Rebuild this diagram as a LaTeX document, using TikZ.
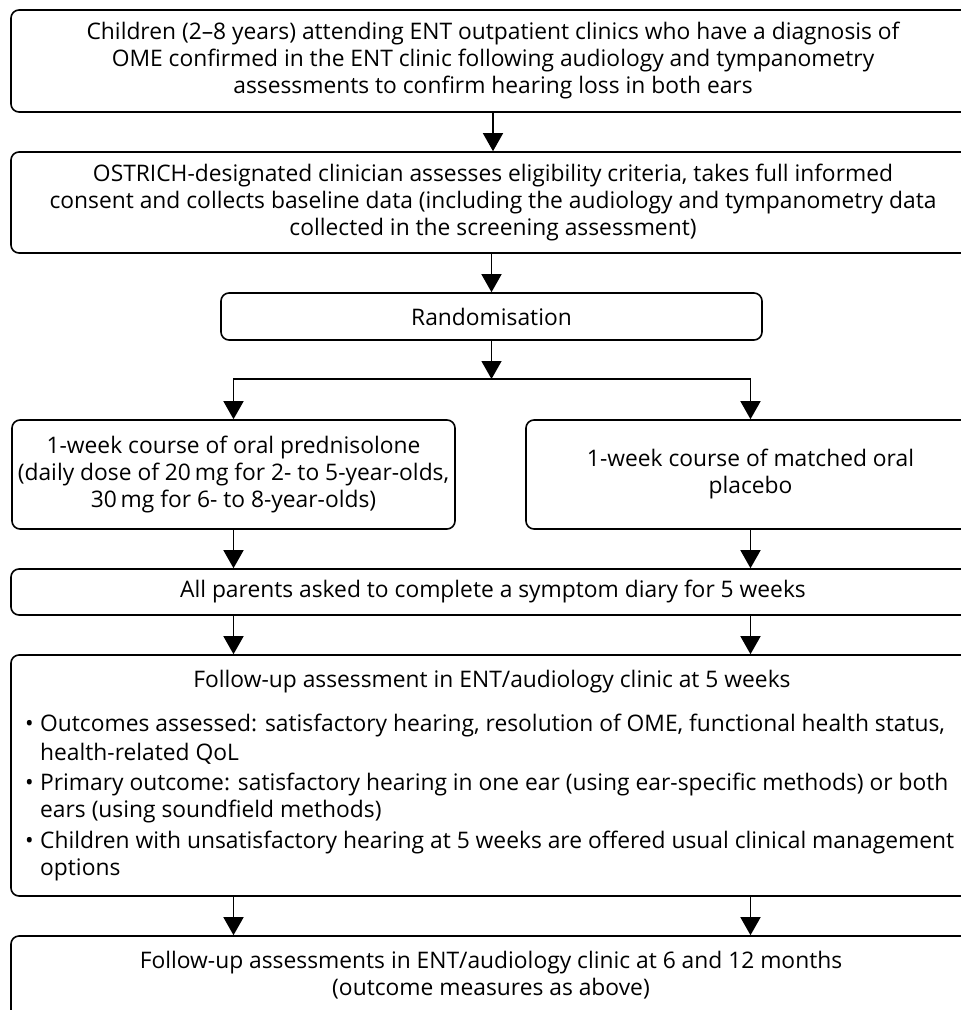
\documentclass[tikz,border=0pt]{standalone}
\usepackage{fontspec}
\setmainfont{Open Sans}
\usetikzlibrary{arrows.meta,calc}
\begin{document}
\begin{tikzpicture}[x=1pt,y=-1pt,
  box/.style={draw, line width=1.6pt, rounded corners=8pt, inner sep=0pt, align=center,
    font=\fontsize{22.8}{27}\selectfont},
  txt/.style={inner sep=0pt, anchor=base west, font=\fontsize{22.8}{27}\selectfont},
  arr/.style={line width=1.4pt, -{Triangle[width=20pt,length=18pt]}},
  ln/.style={line width=1.4pt}]
\useasboundingbox (0,0) rectangle (961,1010);
\clip (0,0) rectangle (961,1010);
\node[box, minimum width=964pt, minimum height=102pt] (b1) at (493,61)
  {Children (2--8 years) attending ENT outpatient clinics who have a diagnosis of\\
   OME confirmed in the ENT clinic following audiology and tympanometry\\
   assessments to confirm hearing loss in both ears};
\node[box, minimum width=964pt, minimum height=101pt] (b2) at (493,202.5)
  {OSTRICH-designated clinician assesses eligibility criteria, takes full informed\\
   consent and collects baseline data (including the audiology and tympanometry data\\
   collected in the screening assessment)};
\node[box, minimum width=541pt, minimum height=47pt] (rand) at (491.5,316.5) {Randomisation};
\node[box, minimum width=443pt, minimum height=109pt] (left) at (233.5,474.5)
  {1-week course of oral prednisolone\\
   (daily dose of 20\,mg for 2- to 5-year-olds,\\
   30\,mg for 6- to 8-year-olds)};
\node[box, minimum width=449pt, minimum height=109pt] (right) at (750.5,474.5)
  {1-week course of matched oral\\ placebo};
\node[box, minimum width=964pt, minimum height=46pt] (sym) at (493,592)
  {All parents asked to complete a symptom diary for 5 weeks};
\node[box, minimum width=964pt, minimum height=241pt] (fu) at (493,775.5) {};
\node[txt, anchor=base] (fut) at (492,687) {Follow-up assessment in ENT/audiology clinic at 5 weeks};
\node[txt] (i1a) at (25,731) {\makebox[15pt][l]{\textbullet}Outcomes assessed: satisfactory hearing, resolution of OME, functional health status,};
\node[txt] (i1b) at (40,760) {health-related QoL};
\node[txt] (i2a) at (25,790) {\makebox[15pt][l]{\textbullet}Primary outcome: satisfactory hearing in one ear (using ear-specific methods) or both};
\node[txt] (i2b) at (40,817) {ears (using soundfield methods)};
\node[txt] (i3a) at (25,848) {\makebox[15pt][l]{\textbullet}Children with unsatisfactory hearing at 5 weeks are offered usual clinical management};
\node[txt] (i3b) at (40,875) {options};
\node[box, minimum width=964pt, minimum height=104pt] (last) at (493,988) {};
\node[txt, anchor=base] (lt1) at (491,968) {Follow-up assessments in ENT/audiology clinic at 6 and 12 months};
\node[txt, anchor=base] (lt2) at (491,995) {(outcome measures as above)};
\coordinate (split) at (491.5,379);
\draw[arr] (b1) -- (b2);
\draw[arr] (b2.south -| rand.north) -- (rand.north);
\draw[arr] (rand.south) -- (split);
\draw[ln] (split) -| ($(left.north)+(0,-16)$);
\draw[ln] (split) -| ($(right.north)+(0,-16)$);
\draw[arr] ($(left.north)+(0,-17)$) -- (left.north);
\draw[arr] ($(right.north)+(0,-17)$) -- (right.north);
\draw[arr] (left.south) -- (left.south |- sym.north);
\draw[arr] (right.south) -- (right.south |- sym.north);
\draw[arr] (left.south |- sym.south) -- (left.south |- fu.north);
\draw[arr] (right.south |- sym.south) -- (right.south |- fu.north);
\draw[arr] (left.south |- fu.south) -- (left.south |- last.north);
\draw[arr] (right.south |- fu.south) -- (right.south |- last.north);
\end{tikzpicture}
\end{document}
